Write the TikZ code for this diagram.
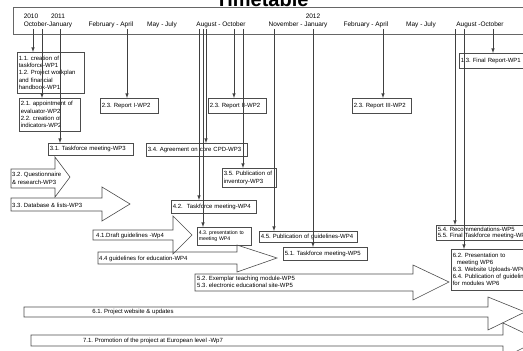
\documentclass[tikz,border=0pt]{standalone}
\usepackage{fontspec}
\setmainfont{Liberation Sans}
\usetikzlibrary{shapes, arrows, positioning, calc}
\frenchspacing

\begin{document}
\begin{tikzpicture}[x=1pt, y=-1pt]
    \tikzstyle{task} = [draw=black!70, line width=0.6pt, rectangle, anchor=north west, inner sep=1.5pt, align=left, font=\fontsize{6}{7.3}\selectfont]
    \tikzstyle{flow} = [draw=black!70, line width=0.6pt]
    \tikzstyle{flowtext} = [inner sep=0pt, align=left, font=\fontsize{6}{7.3}\selectfont]
    \tikzstyle{conn} = [draw=black!75, line width=0.6pt, -latex]
    \tikzstyle{month} = [anchor=base, inner sep=0pt, font=\fontsize{6.5}{7}\selectfont]

    \useasboundingbox (0,0) rectangle (523,351);

    \node[anchor=base, inner sep=0pt, font=\fontsize{20}{22}\selectfont\bfseries] (title) at (262,6) {Timetable};
    \node[draw=black!60, line width=0.8pt, anchor=north west, minimum width=527pt, minimum height=27pt, inner sep=0pt] (header) at (13,7) {};

    \node[month] (y2010) at (31,18) {2010};
    \node[month] (y2011) at (58,18) {2011};
    \node[month] (y2012) at (313,18) {2012};
    \node[month] (m1) at (48,26) {October-January};
    \node[month] (m2) at (111,26) {February - April};
    \node[month] (m3) at (162,26) {May - July};
    \node[month] (m4) at (221,26) {August - October};
    \node[month] (m5) at (298,26) {November - January};
    \node[month] (m6) at (366,26) {February - April};
    \node[month] (m7) at (421,26) {May - July};
    \node[month] (m8) at (480,26) {August -October};

    \coordinate (oj1) at (33,29);
    \coordinate (oj2) at (42,29);
    \coordinate (oj3) at (60,29);
    \coordinate (fa1) at (127,29);
    \coordinate (ao1) at (199,29);
    \coordinate (ao2) at (203,29);
    \coordinate (ao3) at (206,29);
    \coordinate (ao4) at (234,29);
    \coordinate (ao5) at (243,29);
    \coordinate (nj1) at (274,29);
    \coordinate (nj2) at (313,29);
    \coordinate (fa2) at (383,29);
    \coordinate (ao6) at (455,29);
    \coordinate (ao7) at (464,29);
    \coordinate (ao8) at (493,29);

    \node[task, text width=64pt, minimum height=41pt] (b11) at (17,52) {1.1. creation of\\taskforce-WP1\\1.2. Project workplan\\and financial\\handbook-WP1};
    \node[task, text width=58pt, minimum height=33pt] (b21) at (19,98) {2.1. appointment of\\evaluator-WP2\\2.2. creation of\\indicators-WP2};
    \node[task, text width=55pt, minimum height=15pt] (b23a) at (100,98) {2.3. Report I-WP2};
    \node[task, text width=55pt, minimum height=15pt] (b23b) at (208,98) {2.3. Report II-WP2};
    \node[task, text width=56pt, minimum height=15pt] (b23c) at (352,98) {2.3. Report III-WP2};
    \node[task, text width=77pt, minimum height=15pt] (b13) at (459,53) {1.3. Final Report-WP1};
    \node[task, text width=82pt, minimum height=12pt] (b31) at (48,143) {3.1. Taskforce meeting-WP3};
    \node[task, text width=98pt, minimum height=13pt] (b34) at (146,143) {3.4. Agreement on core CPD-WP3};
    \node[task, text width=51pt, minimum height=19pt] (b35) at (222,168) {3.5. Publication of\\inventory-WP3};
    \node[task, text width=82pt, minimum height=13pt] (b42) at (171,200) {4.2.\ \ Taskforce meeting-WP4};
    \node[task, text width=51pt, minimum height=18pt, font=\fontsize{5.2}{6.5}\selectfont] (b43) at (197,227) {4.3. presentation to\\meeting WP4};
    \node[task, text width=95pt, minimum height=11pt] (b45) at (259,231) {4.5. Publication of guidelines-WP4};
    \node[task, text width=81pt, minimum height=13pt] (b51) at (283,247) {5.1. Taskforce meeting-WP5};
    \node[task, text width=97pt, minimum height=15pt, font=\fontsize{6}{6.5}\selectfont] (b54) at (436,225) {5.4. Recommendations-WP5\\5.5. Final Taskforce meeting-WP5};
    \node[task, text width=87pt, minimum height=41pt, font=\fontsize{6}{7}\selectfont] (b62) at (451,249) {6.2. Presentation to\\\ \ meeting WP6\\6.3. Website Uploads-WP6\\6.4. Publication of guidelines\\for modules WP6};

    \draw[flow] (11,169) -- (55,169) -- (55,157) -- (70,177) -- (55,197) -- (55,188) -- (11,188) -- cycle;
    \draw[flow] (11,198) -- (102,198) -- (102,187) -- (130,204) -- (102,221) -- (102,211) -- (11,211) -- cycle;
    \draw[flow] (93,230) -- (173,230) -- (173,216) -- (192,235) -- (173,254) -- (173,240) -- (93,240) -- cycle;
    \draw[flow] (98,252) -- (237,252) -- (237,245) -- (277,258) -- (237,272) -- (237,264) -- (98,264) -- cycle;
    \draw[flow] (195,274) -- (413,274) -- (413,265) -- (449,282) -- (413,300) -- (413,291) -- (195,291) -- cycle;
    \draw[flow] (24,307) -- (488,307) -- (488,297) -- (525,312) -- (488,330) -- (488,317) -- (24,317) -- cycle;
    \draw[flow] (31,335) -- (503,335) -- (503,323) -- (539,340) -- (503,358) -- (503,346) -- (31,346) -- cycle;

    \node[flowtext, anchor=west] (a32) at (12,178.5) {3.2. Questionnaire\\\& research-WP3};
    \node[flowtext, anchor=west] (a33) at (12,205) {3.3. Database \& lists-WP3};
    \node[flowtext, anchor=west] (a41) at (96,235.5) {4.1.Draft guidelines -Wp4};
    \node[flowtext, anchor=west] (a44) at (99,258.5) {4.4 guidelines for education-WP4};
    \node[flowtext, anchor=west] (a52) at (197,282) {5.2. Exemplar teaching module-WP5\\5.3. electronic educational site-WP5};
    \node[flowtext] (a61) at (133,312) {6.1. Project website \& updates};
    \node[flowtext] (a71) at (153,341) {7.1. Promotion of the project at European level -Wp7};

    \draw[conn] (oj1) -- (oj1 |- b11.north);
    \draw[conn] (oj2) -- (oj2 |- b21.north);
    \draw[conn] (oj3) -- (oj3 |- b31.north);
    \draw[conn] (fa1) -- (fa1 |- b23a.north);
    \draw[conn] (ao1) -- (ao1 |- b42.north);
    \draw[conn] (ao2) -- (ao2 |- b43.north);
    \draw[conn] (ao3) -- (ao3 |- b34.north);
    \draw[conn] (ao4) -- (ao4 |- b23b.north);
    \draw[conn] (ao5) -- (ao5 |- b35.north);
    \draw[conn] (nj1) -- (nj1 |- b45.north);
    \draw[conn] (nj2) -- (nj2 |- b51.north);
    \draw[conn] (fa2) -- (fa2 |- b23c.north);
    \draw[conn] (ao6) -- (ao6 |- b54.north);
    \draw[conn] (ao7) -- (ao7 |- b62.north);
    \draw[conn] (ao8) -- (ao8 |- b13.north);
\end{tikzpicture}
\end{document}
